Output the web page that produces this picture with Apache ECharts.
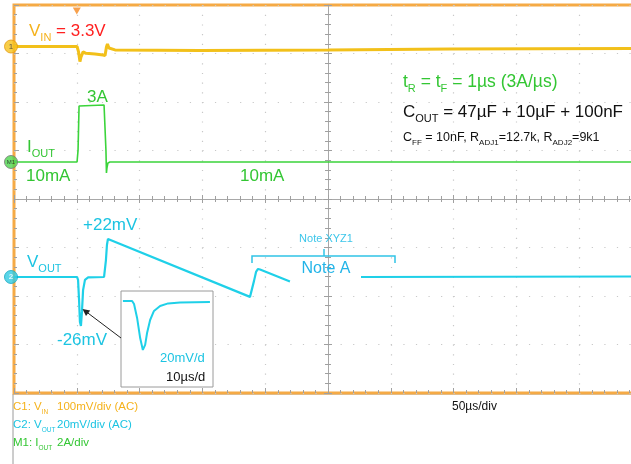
<!DOCTYPE html>
<html><head><meta charset="utf-8">
<script src="https://cdn.jsdelivr.net/npm/echarts@6/dist/echarts.min.js"></script>
<style>html,body{margin:0;padding:0;background:#fff}#c{width:631px;height:464px}</style>
</head><body><div id="c"></div>
<script>
// ---- data (time in µs relative to screen centre, 50 µs/div) ----
const timeTicks = [-250, -200, -150, -100, -50, 0, 50, 100, 150, 200, 250];
// C1: VIN, AC coupled, mV
const vinT  = [-250, -199.8, -198.6, -197.5, -196.7, -195, -192.7, -185.5, -179.1, -177.5, -176.4, -175.6, -174.4, -169.6, -101.9, 0, 97.1, 250];
const vinMv = [0, 0, -11, -31, -22, -11, -14, -15.5, -17.5, -18.5, -1, 5, -3, -7, -8, -7, -5, -4];
// M1: IOUT, A
const ioutT = [-250, -199.8, -199, -198.2, -197.5, -178.3, -177.5, -176.8, -176.4, -176, -175.2, -173.6, 250];
const ioutA = [0, 0, 0.49, 2.31, 2.35, 2.35, 2.31, 0.49, -0.45, -0.25, -0.04, 0, 0];
// C2: VOUT, AC coupled, mV (null = hidden by annotation)
const voutT  = [-250, -199.8, -199, -198.2, -197.5, -196.7, -195.9, -195, -193.5, -191, -178.3, -177.5, -176.8, -176, -175.2, -174.4, -62.1, -61.3, -58.9, -57.3, -55.7, -54.1, -30.3, -2, 26.3, 250];
const voutMv = [0, 0, -1.2, -9.5, -18.6, -20.2, -14.4, -5.4, -1.2, -0.2, 0, 0.4, 7, 13.2, 15.7, 16.1, -8.2, -7.4, -1.6, 2.1, 3.3, 3.1, -1.9, null, 0, 0.2];
// inset zoom of the VOUT undershoot (10 µs/d, mV)
const insetT  = [0.5, 2.9, 3.4, 4.2, 5.0, 5.7, 6.3, 6.8, 7.6, 8.6, 10.2, 12.3, 15.4, 23.2];
const insetMv = [-0.3, -0.3, -1.9, -9.3, -20, -26.3, -23.6, -17.3, -10.4, -5.6, -3, -1.6, -1.1, -0.8];
const triggerT = [-200];

// ---- channel settings (scale per division, screen position in divisions) ----
const vinScale = 100, ioutScale = 2, voutScale = 20;
const vinPos = 3.144, ioutPos = 0.763, voutPos = -1.608;

const C_BORDER = '#f5aa45', C_VIN = '#f2c01a', C_VINTXT = '#f5b21c', C_RED = '#ff2020',
      C_GREEN = '#3bd43b', C_GTXT = '#33c633', C_CYAN = '#1fd0e8', C_CTXT = '#1cc4e2', C_BLUE = '#22b4e8';
const FF = '"Liberation Sans", Arial, sans-serif';

function toDiv(ts, vs, pos, sc) {
  return ts.map((t, i) => vs[i] == null ? [t, '-'] : [t, pos + vs[i] / sc]);
}

const chart = echarts.init(document.getElementById('c'), null, {renderer: 'canvas'});

const tickStyle = {color: '#a0a0a0', width: 1};
function centerAxis(dim, position, showLine) {
  return {
    type: 'value', gridIndex: 0, position: position,
    min: dim === 'x' ? timeTicks[0] : -4, max: dim === 'x' ? timeTicks[timeTicks.length - 1] : 4, interval: dim === 'x' ? 50 : 1,
    axisLine: {show: showLine, onZero: true, onZeroAxisIndex: 0, lineStyle: {color: '#a8a8a8', width: 1}},
    axisTick: {show: true, inside: true, length: 4, lineStyle: tickStyle},
    minorTick: {show: true, splitNumber: 5, length: 3, lineStyle: tickStyle},
    axisLabel: {show: false}, splitLine: {show: false}
  };
}

function rt(text, x, y, rich, extra) {
  return Object.assign({
    type: 'text', x: x, y: y, z: 20,
    style: {text: text, rich: rich, align: 'left', verticalAlign: 'middle', textAlign: 'left', textVerticalAlign: 'middle'}
  }, extra || {});
}
function tok(size, color, sub) {
  return sub ? {fontSize: size, fontFamily: FF, fill: color, color: color, lineHeight: Math.round(size * 1.1), verticalAlign: 'bottom'}
             : {fontSize: size, fontFamily: FF, fill: color, color: color, lineHeight: Math.round(size * 1.45)};
}
function plain(text, x, y, size, color, align) {
  return {type: 'text', x: x, y: y, z: 20,
    style: {text: text, fontSize: size, fontFamily: FF, fill: color, align: align || 'left', verticalAlign: 'middle', textAlign: align || 'left', textVerticalAlign: 'middle'}};
}

const option = {
  backgroundColor: '#fff',
  animation: false,
  grid: [
    {left: 14, top: 5, width: 628, height: 388, show: true, borderColor: C_BORDER, borderWidth: 3, containLabel: false, outerBoundsMode: 'none'},
    {left: 121, top: 291, width: 92, height: 96, show: true, backgroundColor: '#fff', borderColor: '#9a9a9a', borderWidth: 1, z: 5, outerBoundsMode: 'none'}
  ],
  xAxis: [
    {type: 'value', gridIndex: 0, position: 'bottom', min: -250, max: 250, interval: 50,
     axisLine: {show: false, onZero: false},
     axisTick: {show: true, inside: true, length: 5, lineStyle: tickStyle},
     minorTick: {show: true, splitNumber: 5, length: 3, lineStyle: tickStyle},
     axisLabel: {show: false},
     splitLine: {show: true, lineStyle: {color: '#c8c8c8', width: 1.2, type: [1.2, 8.5]}}},
    centerAxis('x', 'top', true),
    centerAxis('x', 'bottom', false),
    {type: 'value', gridIndex: 1, min: 0, max: 24, show: false}
  ],
  yAxis: [
    {type: 'value', gridIndex: 0, position: 'left', min: -4, max: 4, interval: 1,
     axisLine: {show: false, onZero: false},
     axisTick: {show: true, inside: true, length: 5, lineStyle: tickStyle},
     minorTick: {show: true, splitNumber: 5, length: 3, lineStyle: tickStyle},
     axisLabel: {show: false},
     splitLine: {show: true, lineStyle: {color: '#c8c8c8', width: 1.2, type: [1.2, 11.36]}}},
    centerAxis('y', 'right', true),
    centerAxis('y', 'left', false),
    {type: 'value', gridIndex: 1, min: -46, max: 5, show: false}
  ],
  series: [
    {type: 'line', name: 'VIN', xAxisIndex: 0, yAxisIndex: 0, data: toDiv(vinT, vinMv, vinPos, vinScale),
     showSymbol: false, lineStyle: {color: C_VIN, width: 3}, z: 3},
    {type: 'line', name: 'IOUT', xAxisIndex: 0, yAxisIndex: 0, data: toDiv(ioutT, ioutA, ioutPos, ioutScale),
     showSymbol: false, lineStyle: {color: C_GREEN, width: 1.6}, z: 3},
    {type: 'line', name: 'VOUT', xAxisIndex: 0, yAxisIndex: 0, data: toDiv(voutT, voutMv, voutPos, voutScale),
     showSymbol: false, connectNulls: false, lineStyle: {color: C_CYAN, width: 2.2}, z: 3},
    {type: 'line', name: 'inset', xAxisIndex: 3, yAxisIndex: 3, data: insetT.map((t, i) => [t, insetMv[i]]),
     showSymbol: false, lineStyle: {color: C_CYAN, width: 2}, z: 6},
    {type: 'scatter', name: 'markers', xAxisIndex: 0, yAxisIndex: 0, clip: false, z: 10, symbolSize: 13, symbolOffset: [-3, 0],
     data: [
       {value: [-250, vinPos], itemStyle: {color: '#f6c21c', borderColor: '#e39a10', borderWidth: 1},
        label: {show: true, formatter: '1', position: 'inside', fontSize: 8, color: '#333', fontFamily: FF}},
       {value: [-250, ioutPos], itemStyle: {color: '#4ed64e', borderColor: '#777', borderWidth: 1},
        label: {show: true, formatter: 'M1', position: 'inside', fontSize: 6, color: '#222', fontFamily: FF}},
       {value: [-250, voutPos], itemStyle: {color: '#2fcbe2', borderColor: '#18a8c0', borderWidth: 1},
        label: {show: true, formatter: '2', position: 'inside', fontSize: 8, color: '#fff', fontWeight: 'bold', fontFamily: FF}}
     ]},
    {type: 'scatter', name: 'trigger', xAxisIndex: 0, yAxisIndex: 0, clip: false, z: 10,
     symbol: 'triangle', symbolRotate: 180, symbolSize: [8, 7], symbolOffset: [0, 6],
     itemStyle: {color: '#f58a20'}, data: triggerT.map(t => [t, 4])}
  ],
  graphic: [
    // bottom info panel
    {type: 'rect', z: -10, shape: {x: 13, y: 394, width: 700, height: 90}, style: {fill: '#fff', stroke: '#9a9a9a', lineWidth: 1}},
    rt('{a|V}{s|IN}{r| = 3.3V}', 29, 31, {a: tok(17, C_VINTXT), s: tok(11, C_VINTXT, true), r: tok(17, C_RED)}),
    plain('3A', 87, 97, 17, C_GTXT),
    rt('{a|I}{s|OUT}', 27, 147, {a: tok(17, C_GTXT), s: tok(11, C_GTXT, true)}),
    plain('10mA', 26, 176, 17, C_GTXT),
    plain('10mA', 240, 176, 17, C_GTXT),
    rt('{a|t}{s|R}{a| = t}{s|F}{a| = 1µs (3A/µs)}', 403, 82, {a: tok(17.5, C_GTXT), s: tok(11, C_GTXT, true)}),
    rt('{a|C}{s|OUT}{a| = 47µF + 10µF + 100nF}', 403, 112, {a: tok(17, '#111'), s: tok(11, '#111', true)}),
    rt('{a|C}{s|FF}{a| = 10nF, R}{s|ADJ1}{a|=12.7k, R}{s|ADJ2}{a|=9k1}', 403, 138, {a: tok(12.5, '#111'), s: tok(8, '#111', true)}),
    plain('+22mV', 83, 225, 17, C_CTXT),
    rt('{a|V}{s|OUT}', 27, 262, {a: tok(17, C_CTXT), s: tok(11, C_CTXT, true)}),
    plain('-26mV', 57, 340, 17, C_CTXT),
    plain('Note XYZ1', 326, 239, 11, '#3cc6ea', 'center'),
    plain('Note A', 326, 269, 16, C_BLUE, 'center'),
    {type: 'polyline', z: 20, shape: {points: [[252, 263], [252, 256], [395, 256], [395, 263]]}, style: {stroke: '#30c4e6', lineWidth: 1.5, fill: null}},
    {type: 'line', z: 20, shape: {x1: 324, y1: 256, x2: 324, y2: 249}, style: {stroke: '#30c4e6', lineWidth: 1.5}},
    // arrow to undershoot
    {type: 'line', z: 20, shape: {x1: 121, y1: 338, x2: 86, y2: 311.6}, style: {stroke: '#222', lineWidth: 1}},
    {type: 'polygon', z: 20, shape: {points: [[82.5, 309], [90.2, 310.4], [86.0, 316.0]]}, style: {fill: '#222'}},
    plain('20mV/d', 160, 358, 13, C_CTXT),
    plain('10µs/d', 166, 377, 13, '#111'),
    // info panel text
    rt('{a|C1: V}{s|IN}', 13, 407, {a: tok(11.5, C_VINTXT), s: tok(6.5, C_VINTXT, true)}),
    plain('100mV/div (AC)', 57, 407, 11.5, C_VINTXT),
    rt('{a|C2: V}{s|OUT}', 13, 425, {a: tok(11.5, C_CTXT), s: tok(6.5, C_CTXT, true)}),
    plain('20mV/div (AC)', 57, 425, 11.5, C_CTXT),
    rt('{a|M1: I}{s|OUT}', 13, 443, {a: tok(11.5, C_GTXT), s: tok(6.5, C_GTXT, true)}),
    plain('2A/div', 57, 443, 11.5, C_GTXT),
    plain('50µs/div', 452, 407, 12, '#111')
  ]
};
chart.setOption(option);
</script>
</body></html>
